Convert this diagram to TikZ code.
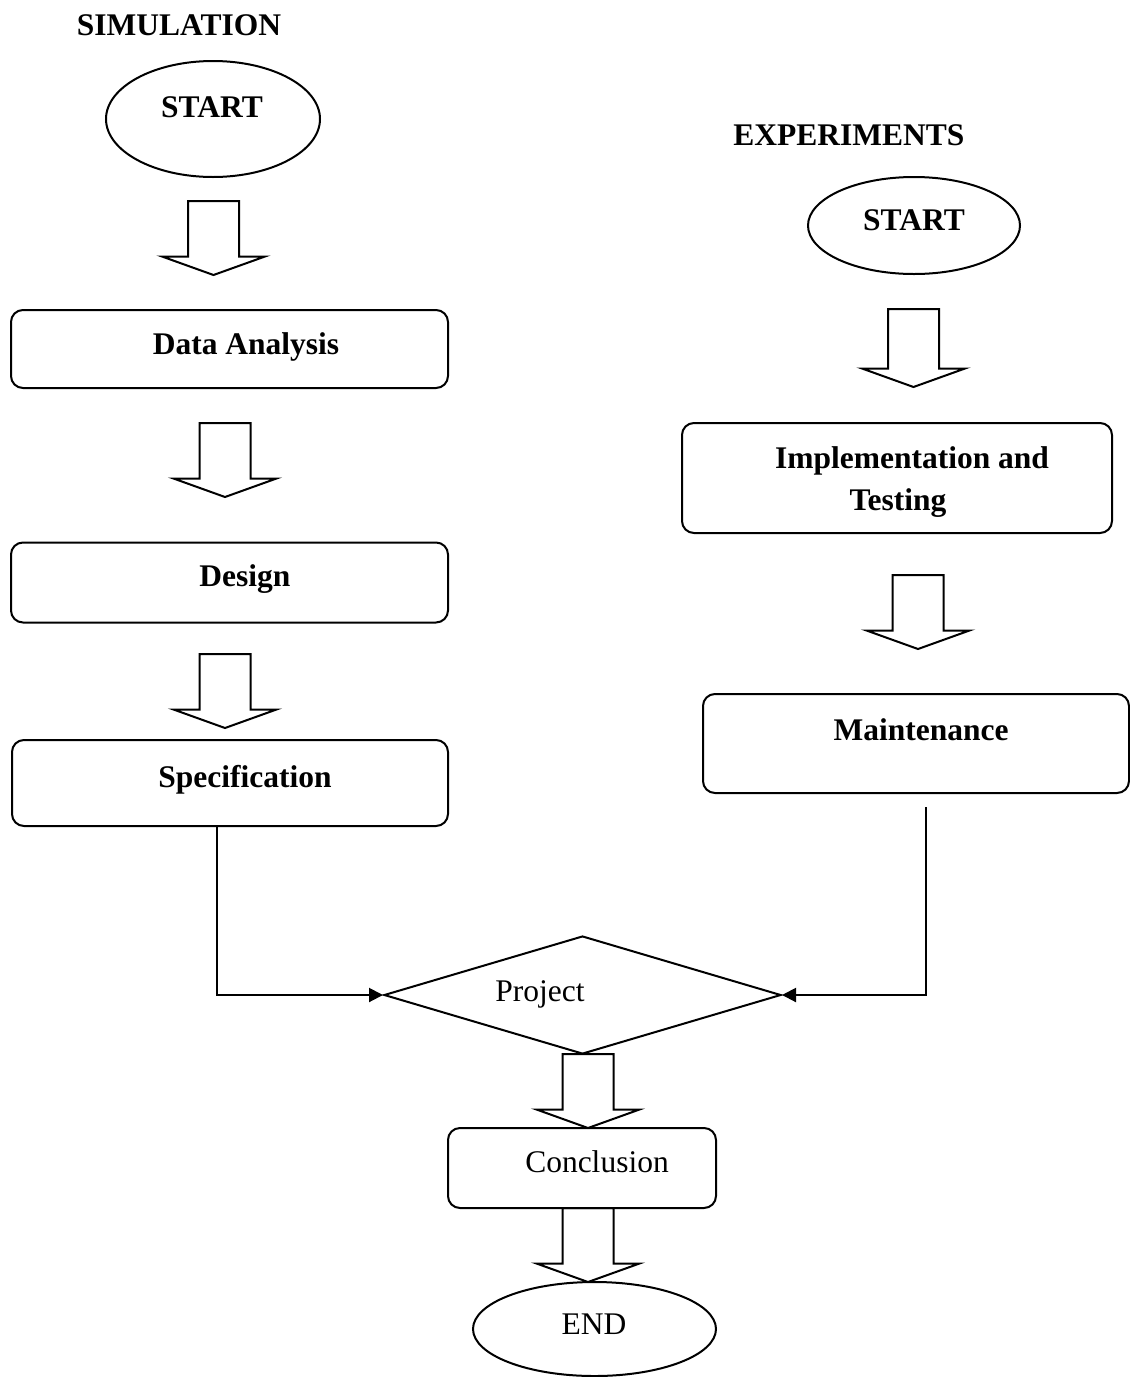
\documentclass[tikz,border=0pt]{standalone}
\usepackage{fontspec}
\setmainfont{Liberation Serif}
\usetikzlibrary{shapes.geometric,arrows.meta,calc}

% Hollow block arrow: #1 = coordinate giving the top of the shaft, #2 = tip
\newcommand\blockarrow[2]{%
  \draw[blk] ($(#2|-#1)+(-25.5,0)$) -- ($(#2)+(-25.5,-18.5)$)
    -- ($(#2)+(-51.5,-18.5)$) -- (#2) -- ($(#2)+(51.5,-18.5)$)
    -- ($(#2)+(25.5,-18.5)$) -- ($(#2|-#1)+(25.5,0)$) -- cycle;}

\begin{document}
\begin{tikzpicture}[x=1pt,y=-1pt,
  every node/.style={font=\fontsize{31.5}{42}\selectfont},
  outline/.style={draw,line width=2pt,inner sep=0pt},
  terminal/.style={outline,ellipse},
  stepbox/.style={outline,rectangle,rounded corners=12pt},
  decision/.style={outline,diamond},
  lbl/.style={anchor=base,inner sep=0pt},
  head/.style={lbl,font=\fontsize{31.5}{42}\selectfont\bfseries},
  blk/.style={line width=2pt,line join=miter},
  link/.style={line width=2pt,-{Triangle[length=14pt,width=14pt]}}]

\useasboundingbox (0,0) rectangle (1130,1377);

% ---- simulation column ----
\node[head] (simT) at (179,35) {SIMULATION};
\node[terminal,minimum width=214pt,minimum height=116pt] (startL) at (213,119) {};
\node[head] (startLt) at (212,117) {START};

\node[stepbox,minimum width=437pt,minimum height=78pt] (da) at (229.5,349) {};
\node[head] (dat) at (246,354) {Data Analysis};

\node[stepbox,minimum width=437pt,minimum height=80pt] (des) at (229.5,582.5) {};
\node[head] (dest) at (245,586) {Design};

\node[stepbox,minimum width=436pt,minimum height=86pt] (spec) at (230,783) {};
\node[head] (spect) at (245,787) {Specification};

% ---- experiments column ----
\node[head] (expT) at (849,145) {EXPERIMENTS};
\node[terminal,minimum width=212pt,minimum height=97pt] (startR) at (914,225.5) {};
\node[head] (startRt) at (914,230) {START};

\node[stepbox,minimum width=430pt,minimum height=110pt] (impl) at (897,478) {};
\node[head] (implt1) at (912,468) {Implementation and};
\node[head] (implt2) at (898,510) {Testing};

\node[stepbox,minimum width=426pt,minimum height=99pt] (maint) at (916,743.5) {};
\node[head] (maintt) at (921,740) {Maintenance};

% ---- merge and finish ----
\node[decision,minimum width=397pt,minimum height=118pt] (proj) at (582.5,995) {};
\node[lbl] (projt) at (540,1001) {Project};

\node[stepbox,minimum width=268pt,minimum height=80pt] (concl) at (582,1168) {};
\node[lbl] (conclt) at (597,1172) {Conclusion};

\node[terminal,minimum width=243pt,minimum height=94pt] (fin) at (594.5,1329) {};
\node[lbl] (fint) at (594,1334) {END};

% ---- block arrows ----
\coordinate (a1s) at (213.5,201);  \coordinate (a1e) at (213.5,275);
\coordinate (a2s) at (225,423);    \coordinate (a2e) at (225,497);
\coordinate (a3s) at (225,654);    \coordinate (a3e) at (225,728);
\coordinate (a4s) at (913.5,309);  \coordinate (a4e) at (913.5,387);
\coordinate (a5s) at (918,575);    \coordinate (a5e) at (918,649);
\coordinate (a6s) at (588,1054);   \coordinate (a6e) at (588,1128);
\coordinate (a7s) at (588,1208);   \coordinate (a7e) at (588,1282);
\blockarrow{a1s}{a1e}
\blockarrow{a2s}{a2e}
\blockarrow{a3s}{a3e}
\blockarrow{a4s}{a4e}
\blockarrow{a5s}{a5e}
\blockarrow{a6s}{a6e}
\blockarrow{a7s}{a7e}

% ---- line connectors into the decision ----
\coordinate (lx) at (217,0);
\coordinate (rx) at (926,0);
\draw[link] (spec.south -| lx) |- (proj.west);
\draw[link] ($(maint.south -| rx)+(0,13)$) |- (proj.east);
\end{tikzpicture}
\end{document}
